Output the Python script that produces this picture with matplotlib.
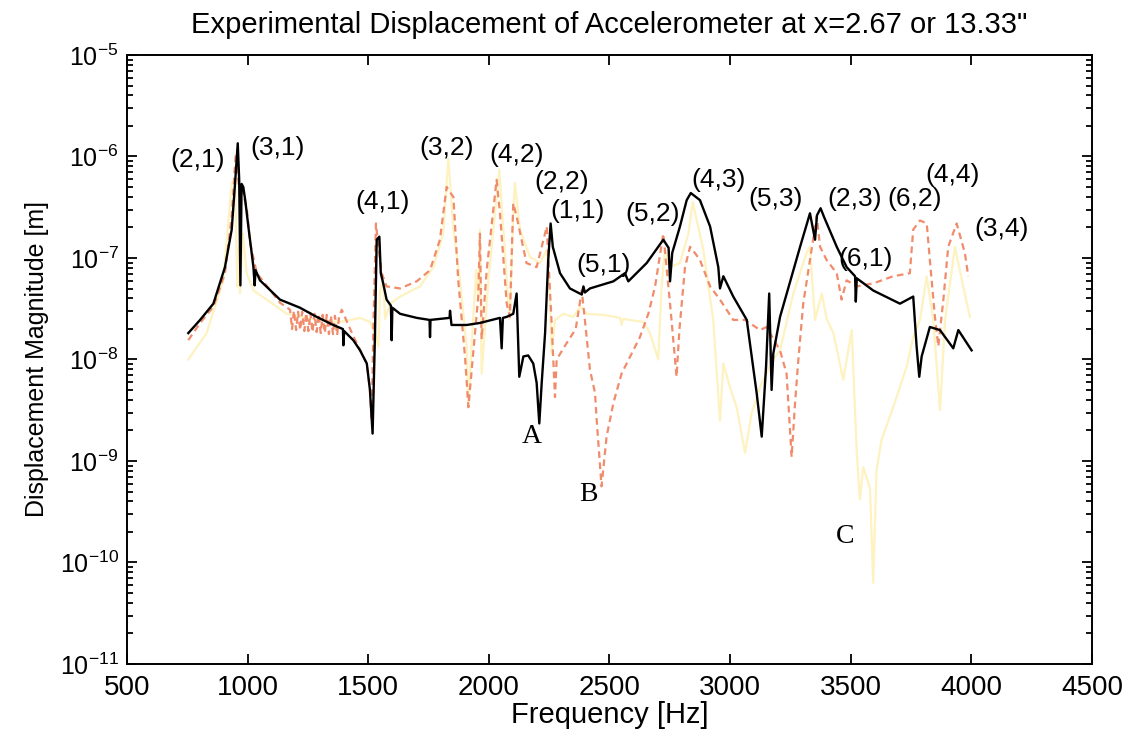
import numpy as np
import matplotlib
matplotlib.use("Agg")
import matplotlib.pyplot as plt
from matplotlib.ticker import LogLocator, MultipleLocator, NullFormatter

plt.rcParams["font.family"] = ["Liberation Sans", "DejaVu Sans"]
plt.rcParams["mathtext.fontset"] = "custom"
plt.rcParams["mathtext.rm"] = "Liberation Sans"
plt.rcParams["mathtext.it"] = "Liberation Sans:italic"
plt.rcParams["axes.unicode_minus"] = False

black_freq = [754, 803, 858, 906, 934, 948, 959, 965, 970, 975, 982, 990, 1003, 1024, 1029, 1033,
              1051, 1134, 1217, 1286, 1355, 1395, 1397, 1400, 1438, 1466, 1494, 1507, 1518, 1528,
              1535, 1546, 1552, 1562, 1576, 1594, 1597, 1600, 1632, 1701, 1754, 1756, 1758, 1837,
              1839, 1845, 1908, 1963, 2046, 2053, 2058, 2074, 2101, 2115, 2126, 2143, 2163, 2184,
              2198, 2209, 2219, 2233, 2246, 2256, 2265, 2295, 2336, 2385, 2392, 2398, 2419, 2516,
              2564, 2578, 2654, 2723, 2745, 2751, 2760, 2792, 2820, 2837, 2875, 2917, 2951, 2958,
              2972, 3013, 3069, 3110, 3131, 3149, 3162, 3172, 3179, 3207, 3290, 3331, 3352, 3360,
              3375, 3390, 3442, 3483, 3518, 3521, 3525, 3593, 3704, 3759, 3773, 3784, 3794, 3828,
              3870, 3925, 3946, 4001]
black_exp = [-7.74, -7.61, -7.45, -7.09, -6.72, -6.26, -5.87, -6.23, -7.27, -6.27, -6.30, -6.43,
             -6.69, -7.09, -7.27, -7.12, -7.22, -7.41, -7.49, -7.58, -7.66, -7.70, -7.86, -7.72,
             -7.81, -7.91, -8.04, -8.30, -8.73, -7.74, -6.82, -6.79, -7.15, -7.25, -7.41, -7.47,
             -7.81, -7.49, -7.55, -7.59, -7.61, -7.78, -7.61, -7.59, -7.52, -7.66, -7.66, -7.64,
             -7.59, -7.89, -7.59, -7.58, -7.55, -7.35, -8.17, -7.97, -7.96, -8.04, -8.23, -8.63,
             -8.23, -7.74, -7.02, -6.66, -6.89, -7.15, -7.30, -7.36, -7.28, -7.34, -7.30, -7.23,
             -7.15, -7.23, -7.05, -6.82, -6.90, -7.23, -6.95, -6.69, -6.43, -6.36, -6.43, -6.69,
             -7.09, -7.30, -7.18, -7.38, -7.61, -8.33, -8.76, -8.07, -7.35, -8.30, -7.94, -7.58,
             -6.89, -6.56, -6.82, -6.58, -6.51, -6.60, -6.89, -7.09, -7.18, -7.43, -7.20, -7.32,
             -7.45, -7.38, -7.87, -8.17, -7.97, -7.68, -7.71, -7.89, -7.71, -7.91]

salmon_freq = [754, 803, 858, 906, 934, 951, 964, 980, 996, 1010, 1038, 1134, 1176,
               1184, 1192, 1201, 1209, 1218, 1226, 1235, 1243, 1252, 1260, 1269, 1277, 1286,
               1294, 1303, 1311, 1320, 1328, 1337, 1345, 1354, 1362, 1371, 1379,
               1390, 1438, 1494, 1507, 1514, 1522, 1532, 1542, 1556, 1576, 1632, 1701, 1756,
               1797, 1825, 1853, 1873, 1901, 1915, 1956, 1963, 1970, 1991, 2032, 2046, 2074,
               2087, 2101, 2115, 2156, 2198, 2240, 2260, 2274, 2281, 2322, 2360, 2385, 2398,
               2419, 2440, 2447, 2467, 2488, 2516, 2550, 2592, 2626, 2661, 2689, 2723, 2751,
               2778, 2790, 2813, 2834, 2854, 2875, 2917, 2958, 3013, 3062, 3124, 3151, 3165,
               3207, 3234, 3255, 3270, 3283, 3303, 3331, 3359, 3373, 3400, 3442, 3462, 3483,
               3525, 3593, 3676, 3745, 3759, 3787, 3815, 3828, 3849, 3863, 3884, 3904, 3939,
               3973, 3987]
salmon_exp = [-7.81, -7.64, -7.48, -7.15, -6.59, -5.97, -6.30, -6.36, -6.50, -6.85, -7.15, -7.44,
              -7.51, -7.70, -7.52, -7.71, -7.53, -7.71, -7.53, -7.72, -7.54, -7.72, -7.54, -7.73,
              -7.55, -7.73, -7.55, -7.74, -7.56, -7.74, -7.56, -7.75, -7.57, -7.75, -7.57, -7.76,
              -7.58, -7.51, -7.77, -8.04, -8.30, -8.60, -7.60, -6.66, -6.90, -7.15, -7.28, -7.30,
              -7.23, -7.12, -6.82, -6.30, -6.40, -7.22, -7.97, -8.47, -7.38, -6.76, -7.80, -7.12,
              -6.23, -6.56, -7.45, -7.58, -6.46, -6.59, -7.05, -7.09, -6.69, -7.64, -8.37, -8.00,
              -7.84, -7.70, -7.32, -7.61, -8.10, -8.33, -8.60, -9.25, -8.76, -8.43, -8.14, -7.94,
              -7.78, -7.55, -7.28, -6.76, -7.45, -8.17, -7.70, -7.09, -6.89, -6.95, -7.02, -7.28,
              -7.41, -7.61, -7.61, -7.71, -7.68, -7.74, -7.91, -8.14, -8.96, -8.40, -8.00, -7.45,
              -7.02, -6.59, -6.89, -7.02, -7.15, -7.41, -7.22, -7.28, -7.25, -7.18, -7.15, -6.72,
              -6.63, -6.66, -7.02, -7.58, -7.87, -7.41, -6.89, -6.66, -6.95, -7.18]

yellow_freq = [754, 830, 899, 934, 948, 957, 962, 968, 980, 996, 1024, 1079, 1162, 1286, 1383,
               1425, 1466, 1507, 1530, 1542, 1549, 1562, 1570, 1590, 1632, 1714, 1770, 1811,
               1832, 1853, 1880, 1908, 1915, 1929, 1947, 1955, 1963, 1970, 1998, 2032, 2043,
               2060, 2081, 2087, 2101, 2108, 2129, 2170, 2212, 2240, 2253, 2260, 2274, 2308,
               2350, 2378, 2405, 2474, 2544, 2550, 2556, 2640, 2668, 2702, 2716, 2730, 2751,
               2792, 2827, 2845, 2889, 2930, 2958, 2972, 2999, 3027, 3062, 3089, 3124, 3179,
               3207, 3262, 3317, 3331, 3352, 3380, 3400, 3428, 3469, 3504, 3525, 3538, 3552,
               3580, 3593, 3607, 3628, 3676, 3732, 3759, 3787, 3815, 3842, 3870, 3891, 3932,
               3966, 3994]
yellow_exp = [-8.00, -7.74, -7.22, -6.26, -6.23, -7.28, -6.90, -7.35, -6.76, -7.15, -7.32, -7.41,
              -7.55, -7.61, -7.63, -7.61, -7.59, -7.63, -7.75, -7.87, -7.32, -7.22, -7.60, -7.45,
              -7.38, -7.28, -7.09, -6.76, -6.02, -6.72, -7.22, -7.87, -8.47, -7.84, -7.12, -7.40,
              -6.72, -8.14, -7.22, -6.40, -6.13, -6.72, -7.45, -7.60, -6.56, -6.26, -6.72, -6.99,
              -7.05, -6.92, -7.38, -7.94, -7.61, -7.55, -7.58, -7.48, -7.55, -7.56, -7.59, -7.66,
              -7.60, -7.63, -7.74, -8.00, -7.28, -6.92, -7.09, -7.05, -6.76, -6.45, -6.92, -7.61,
              -8.60, -8.04, -8.27, -8.47, -8.92, -8.53, -8.27, -8.00, -7.91, -7.35, -6.95, -6.89,
              -7.61, -7.35, -7.60, -7.74, -8.20, -7.71, -8.92, -9.38, -9.06, -9.27, -10.20, -9.09,
              -8.79, -8.47, -8.07, -7.78, -7.61, -7.18, -7.61, -8.50, -7.61, -6.89, -7.28, -7.58]

# mode labels and their positions (frequency, log10 magnitude)
mode_labels = ["(2,1)", "(3,1)", "(4,1)", "(3,2)", "(4,2)", "(2,2)", "(1,1)", "(5,2)", "(5,1)",
               "(4,3)", "(5,3)", "(2,3)", "(6,2)", "(4,4)", "(3,4)", "(6,1)"]
mode_freq = [794, 1126, 1561, 1826, 2117, 2303, 2369, 2680, 2477,
             2954, 3190, 3518, 3766, 3924, 4127, 3563]
mode_exp = [-6.03, -5.92, -6.45, -5.92, -5.99, -6.25, -6.54, -6.57, -7.07,
            -6.23, -6.42, -6.42, -6.42, -6.18, -6.71, -7.01]

point_labels = ["A", "B", "C"]
point_freq = [2179, 2411, 3476]
point_exp = [-8.76, -9.33, -9.74]

fig = plt.figure(figsize=(11.31, 7.40), dpi=100)
ax = fig.add_axes([0.1123, 0.1027, 0.8532, 0.8230])

ax.semilogy(yellow_freq, 10 ** np.array(yellow_exp), color="#fdf2c0", lw=1.6, zorder=2)
ax.semilogy(salmon_freq, 10 ** np.array(salmon_exp), color="#f08c6c", lw=1.6,
            linestyle=(0, (3, 2)), zorder=3)
ax.semilogy(black_freq, 10 ** np.array(black_exp), color="black", lw=1.7, zorder=4)

for label, f, e in zip(mode_labels, mode_freq, mode_exp):
    ax.text(f, 10 ** e, label, ha="center", va="center", fontsize=19, zorder=5)
for label, f, e in zip(point_labels, point_freq, point_exp):
    ax.text(f, 10 ** e, label, ha="center", va="center", fontsize=20,
            family=["Liberation Serif", "DejaVu Serif"], zorder=5)

ax.set_xlim(500, 4500)
ax.set_ylim(1e-11, 1e-5)
ax.xaxis.set_major_locator(MultipleLocator(500))
ax.yaxis.set_major_locator(LogLocator(base=10, numticks=10))
ax.yaxis.set_minor_locator(LogLocator(base=10, subs=np.arange(2, 10), numticks=20))
ax.yaxis.set_minor_formatter(NullFormatter())
ax.tick_params(which="both", direction="in", top=True, right=True, width=1.3)
ax.tick_params(which="major", length=7)
ax.tick_params(which="minor", length=4)
ax.tick_params(axis="x", labelsize=20, pad=8)
ax.tick_params(axis="y", labelsize=18, pad=6)
for spine in ax.spines.values():
    spine.set_linewidth(1.4)

ax.set_title("Experimental Displacement of Accelerometer at x=2.67 or 13.33\"",
             fontsize=21, pad=16)
ax.set_xlabel("Frequency [Hz]", fontsize=21, labelpad=0)
ax.set_ylabel("Displacement Magnitude [m]", fontsize=18, labelpad=8)

fig.savefig("out.png", dpi=100)
